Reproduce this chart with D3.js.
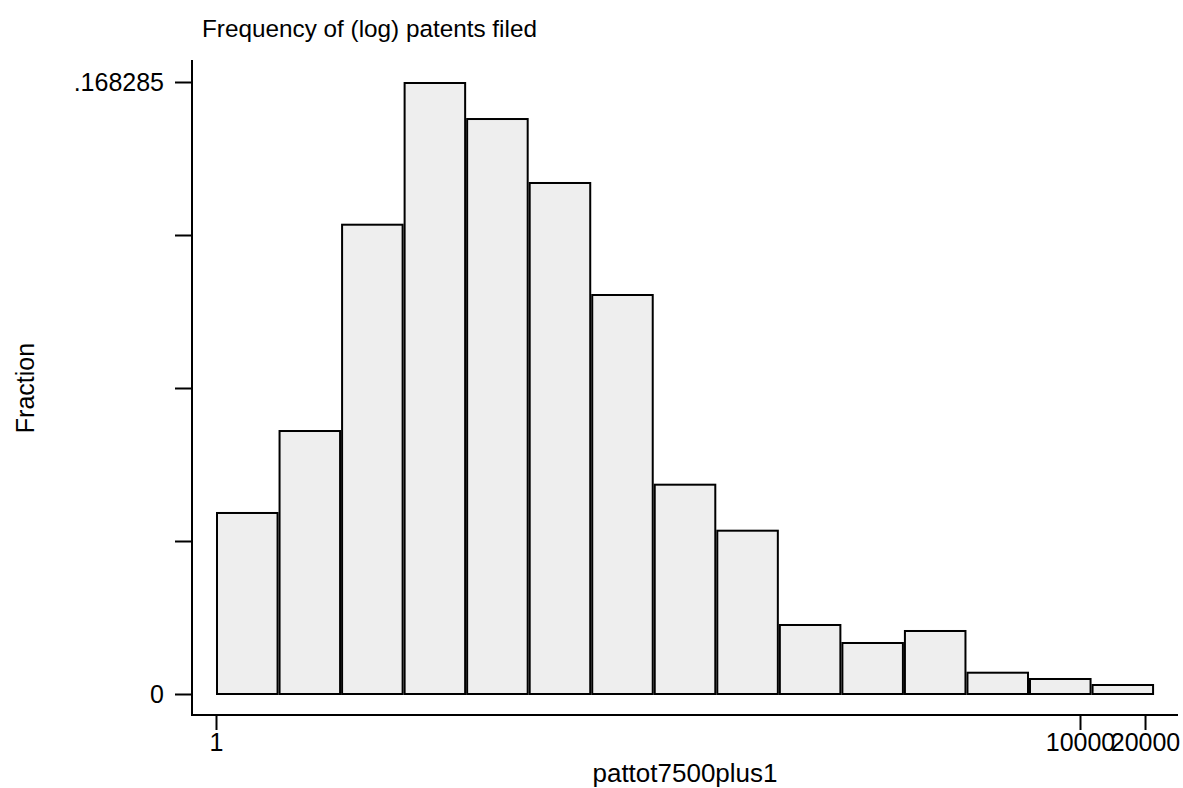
<!DOCTYPE html>
<html>
<head>
<meta charset="utf-8">
<script src="https://cdn.jsdelivr.net/npm/d3@7"></script>
<style>
  html, body { margin: 0; padding: 0; background: #fff; }
  svg { display: block; }
  text { font-family: "Liberation Sans", Arial, sans-serif; fill: #000; }
</style>
</head>
<body>
<svg id="chart" width="1183" height="788"></svg>
<script>
// Bin edges (pattot7500plus1, log-spaced bins)
const binEdges = [1, 1.948, 3.794, 7.389, 14.39, 28.03, 54.60, 106.3, 207.1, 403.4, 785.7, 1530.4, 2981, 5806.6, 11311, 22026];
// Fraction per bin
const fractions = [0.05005, 0.07259, 0.12932, 0.168285, 0.15838, 0.14079, 0.10999, 0.05783, 0.04518, 0.01925, 0.01430, 0.01760, 0.00613, 0.00440, 0.00275];
const xTickValues = [1, 10000, 20000];
const xTickLabels = ["1", "10000", "20000"];
const yTickValues = [0, 0.04207125, 0.0841425, 0.12621375, 0.168285];
const yTickLabels = ["0", "", "", "", ".168285"];
const titleText = "Frequency of (log) patents filed";
const xTitle = "pattot7500plus1";
const yTitle = "Fraction";

const svg = d3.select("#chart");
const fontSize = 25;

const x = d3.scaleLog().domain([1, 10000]).range([216, 1080]);
const y = d3.scaleLinear().domain([0, 0.168285]).range([694, 82]);

const axisLeftX = 192, axisBottomY = 715;

const bins = fractions.map((f, i) => ({ x0: binEdges[i], x1: binEdges[i + 1], f }));

// Bars
svg.append("g").selectAll("rect").data(bins).join("rect")
  .attr("x", d => x(d.x0) + 1)
  .attr("width", d => x(d.x1) - x(d.x0) - 2)
  .attr("y", d => y(d.f) + 1)
  .attr("height", d => y(0) - y(d.f) - 1)
  .attr("fill", "#eeeeee")
  .attr("stroke", "#000")
  .attr("stroke-width", 2);

// Y axis
const yAxis = d3.axisLeft(y).tickValues(yTickValues)
  .tickFormat((d, i) => yTickLabels[i]).tickSize(17).tickPadding(11).tickSizeOuter(0);
const gy = svg.append("g").attr("transform", `translate(${axisLeftX},0)`).call(yAxis);
gy.select(".domain").remove();
gy.append("line").attr("x1", 0).attr("x2", 0).attr("y1", 60).attr("y2", axisBottomY + 1)
  .attr("stroke", "#000").attr("stroke-width", 2);
gy.selectAll(".tick line").attr("stroke", "#000").attr("stroke-width", 2);
gy.selectAll(".tick text").attr("font-size", fontSize).attr("font-family", "Liberation Sans, Arial, sans-serif").attr("fill", "#000");

// X axis
const xAxis = d3.axisBottom(x).tickValues(xTickValues)
  .tickFormat((d, i) => xTickLabels[i]).tickSize(15).tickPadding(3).tickSizeOuter(0);
const gx = svg.append("g").attr("transform", `translate(0,${axisBottomY})`).call(xAxis);
gx.select(".domain").remove();
gx.append("line").attr("x1", axisLeftX - 1).attr("x2", 1178).attr("y1", 0).attr("y2", 0)
  .attr("stroke", "#000").attr("stroke-width", 2);
gx.selectAll(".tick line").attr("stroke", "#000").attr("stroke-width", 2);
gx.selectAll(".tick text").attr("font-size", fontSize).attr("font-family", "Liberation Sans, Arial, sans-serif").attr("fill", "#000");

// Titles
svg.append("text").attr("x", 202).attr("y", 37).attr("font-size", 24.3).text(titleText);
svg.append("text").attr("x", 685).attr("y", 782).attr("text-anchor", "middle").attr("font-size", 26).text(xTitle);
svg.append("text").attr("transform", "translate(34,388) rotate(-90)").attr("text-anchor", "middle")
  .attr("font-size", fontSize).text(yTitle);
</script>
</body>
</html>
